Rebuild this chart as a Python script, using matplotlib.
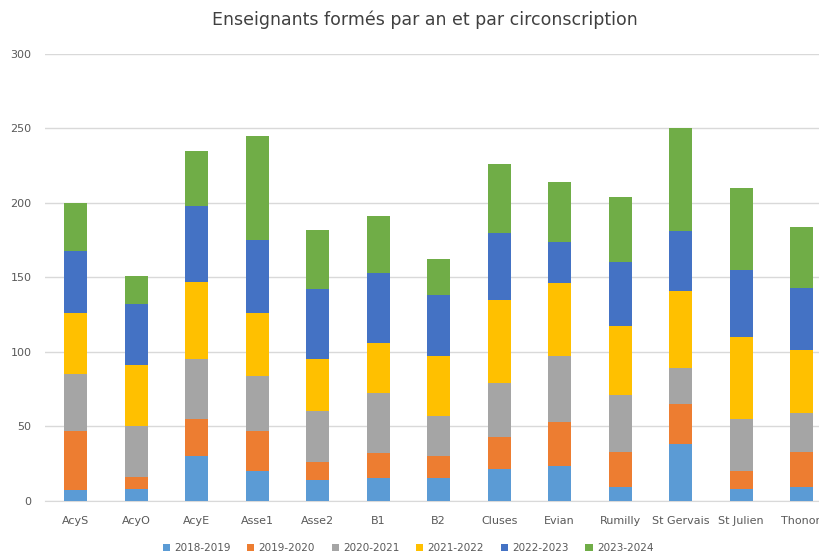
import numpy as np
import matplotlib
matplotlib.use("Agg")
import matplotlib.pyplot as plt

# Categories and values per school year
circonscriptions = ['AcyS', 'AcyO', 'AcyE', 'Asse1', 'Asse2', 'B1', 'B2', 'Cluses',
                    'Evian', 'Rumilly', 'St Gervais', 'St Julien', 'Thonon']
annees = ['2018-2019', '2019-2020', '2020-2021', '2021-2022', '2022-2023', '2023-2024']

v2018 = [7, 8, 30, 20, 14, 15, 15, 21, 23, 9, 38, 8, 9]
v2019 = [40, 8, 25, 27, 12, 17, 15, 22, 30, 24, 27, 12, 24]
v2020 = [38, 34, 40, 37, 34, 40, 27, 36, 44, 38, 24, 35, 26]
v2021 = [41, 41, 52, 42, 35, 34, 40, 56, 49, 46, 52, 55, 42]
v2022 = [42, 41, 51, 49, 47, 47, 41, 45, 28, 43, 40, 45, 42]
v2023 = [32, 19, 37, 70, 40, 38, 24, 46, 40, 44, 69, 55, 41]

couleurs = ['#5B9BD5', '#ED7D31', '#A5A5A5', '#FFC000', '#4472C4', '#70AD47']
gris_texte = '#595959'

fig = plt.figure(figsize=(8.2, 5.54), dpi=100)
# axes run past the right edge, the original screenshot is cropped there
ax = fig.add_axes([45.5 / 820, 53.3 / 554, 786.5 / 820, 446.7 / 554])

x = np.arange(len(circonscriptions))
bas = np.zeros(len(circonscriptions))
series = [v2018, v2019, v2020, v2021, v2022, v2023]
for vals, coul, lab in zip(series, couleurs, annees):
    ax.bar(x, vals, bottom=bas, width=0.38, color=coul, label=lab, zorder=3)
    bas = bas + np.array(vals)

ax.set_xlim(-0.5, len(circonscriptions) - 0.5)
ax.set_ylim(0, 300)
ax.set_yticks(range(0, 301, 50))
ax.yaxis.grid(True, color='#D9D9D9', linewidth=1, zorder=0)
ax.set_xticks(x)
ax.set_xticklabels(circonscriptions)
ax.tick_params(axis='both', length=0, labelsize=8, labelcolor=gris_texte)
ax.tick_params(axis='y', pad=10)
ax.tick_params(axis='x', pad=11)
for s in ['top', 'right', 'left']:
    ax.spines[s].set_visible(False)
ax.spines['bottom'].set_color('#D9D9D9')

fig.text(425 / 820, 1 - 20 / 554, 'Enseignants formés par an et par circonscription',
         ha='center', va='center', fontsize=12.5, color='#404040')

fig.legend(loc='center', bbox_to_anchor=(408 / 820, 1 - 548 / 554), ncol=6,
           frameon=False, fontsize=7.5, handlelength=0.7, handleheight=0.7,
           handletextpad=0.4, columnspacing=1.6, labelcolor=gris_texte)

fig.savefig('out.png', dpi=100)
